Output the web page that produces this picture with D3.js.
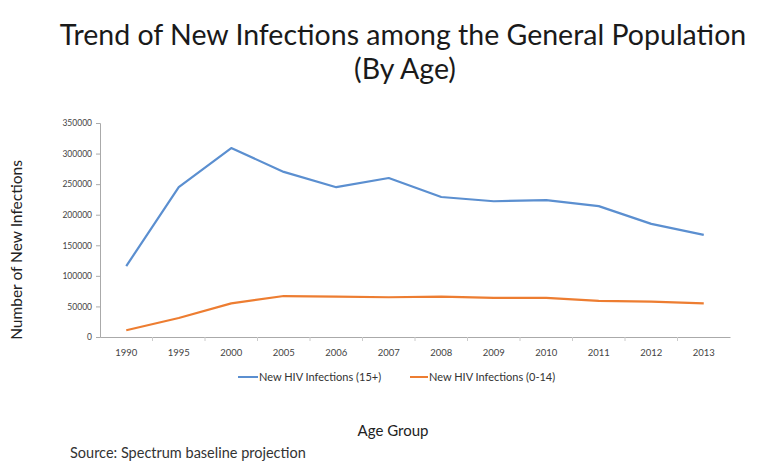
<!DOCTYPE html>
<html><head><meta charset="utf-8">
<script src="https://cdn.jsdelivr.net/npm/d3@7"></script>
<style>body{margin:0;background:#fff;} svg{display:block;} text{font-family:Lato, "Open Sans", sans-serif;}</style>
</head><body>
<svg id="c" width="760" height="467"></svg>
<script>
const years = ["1990","1995","2000","2005","2006","2007","2008","2009","2010","2011","2012","2013"];
const adults = [116000,245000,309000,270000,245000,260000,229000,222000,224000,214000,185000,167000];
const children = [11000,31000,55000,67000,66000,65000,66000,64000,64000,59000,58000,55000];
const yTicks = [0,50000,100000,150000,200000,250000,300000,350000];
const seriesNames = ["New HIV Infections (15+)","New HIV Infections (0-14)"];
const colors = ["#5b8fd0","#ed7d31"];

const svg = d3.select("#c");
const x = d3.scaleBand().domain(years).range([100,730]);
const y = d3.scaleLinear().domain([0,350000]).range([337,123]);

// title
svg.append("text").attr("x",403).attr("y",45).attr("text-anchor","middle")
  .attr("font-size",28.5).attr("fill","#1a1a1a")
  .text("Trend of New Infections among the General Population");
svg.append("text").attr("x",405).attr("y",79).attr("text-anchor","middle")
  .attr("font-size",28.5).attr("fill","#1a1a1a").text("(By Age)");

// y axis
const ya = svg.append("g").attr("transform","translate(100,0)")
  .call(d3.axisLeft(y).tickValues(yTicks).tickFormat(d3.format("d")).tickSize(4).tickPadding(4));
ya.select(".domain").attr("stroke","#aaa");
ya.selectAll(".tick line").attr("stroke","#aaa");
ya.selectAll("text").attr("font-size",8.5).attr("fill","#444");

// x axis
const xa = svg.append("g").attr("transform","translate(0,337)")
  .call(d3.axisBottom(x).tickSize(0).tickPadding(12));
xa.select(".domain").attr("stroke","#aaa");
xa.selectAll("text").attr("font-size",9.5).attr("fill","#444");
xa.selectAll(".bt").data(years.slice(1)).enter().append("line")
  .attr("x1",d=>x(d)).attr("x2",d=>x(d)).attr("y1",0).attr("y2",4).attr("stroke","#ccc");

// lines
const line = d3.line().x((d,i)=>x(years[i])+x.bandwidth()/2).y(d=>y(d));
[adults,children].forEach((s,i)=>{
  svg.append("path").datum(s).attr("d",line).attr("fill","none")
    .attr("stroke",colors[i]).attr("stroke-width",2.2).attr("stroke-linejoin","round");
});

// legend
const lg = [{x:238,w:20},{x:410,w:18}];
seriesNames.forEach((n,i)=>{
  svg.append("line").attr("x1",lg[i].x).attr("x2",lg[i].x+lg[i].w).attr("y1",377).attr("y2",377)
    .attr("stroke",colors[i]).attr("stroke-width",2);
  svg.append("text").attr("x",lg[i].x+lg[i].w+1).attr("y",381).attr("font-size",11).attr("fill","#333").text(n);
});

// axis titles
svg.append("text").attr("x",393).attr("y",436).attr("text-anchor","middle").attr("font-size",15).attr("fill","#222").text("Age Group");
svg.append("text").attr("transform","translate(22,250) rotate(-90)").attr("text-anchor","middle")
  .attr("font-size",15.5).attr("fill","#222").text("Number of New Infections");
svg.append("text").attr("x",70).attr("y",458).attr("font-size",14.5).attr("fill","#333").text("Source: Spectrum baseline projection");
</script>
</body></html>
